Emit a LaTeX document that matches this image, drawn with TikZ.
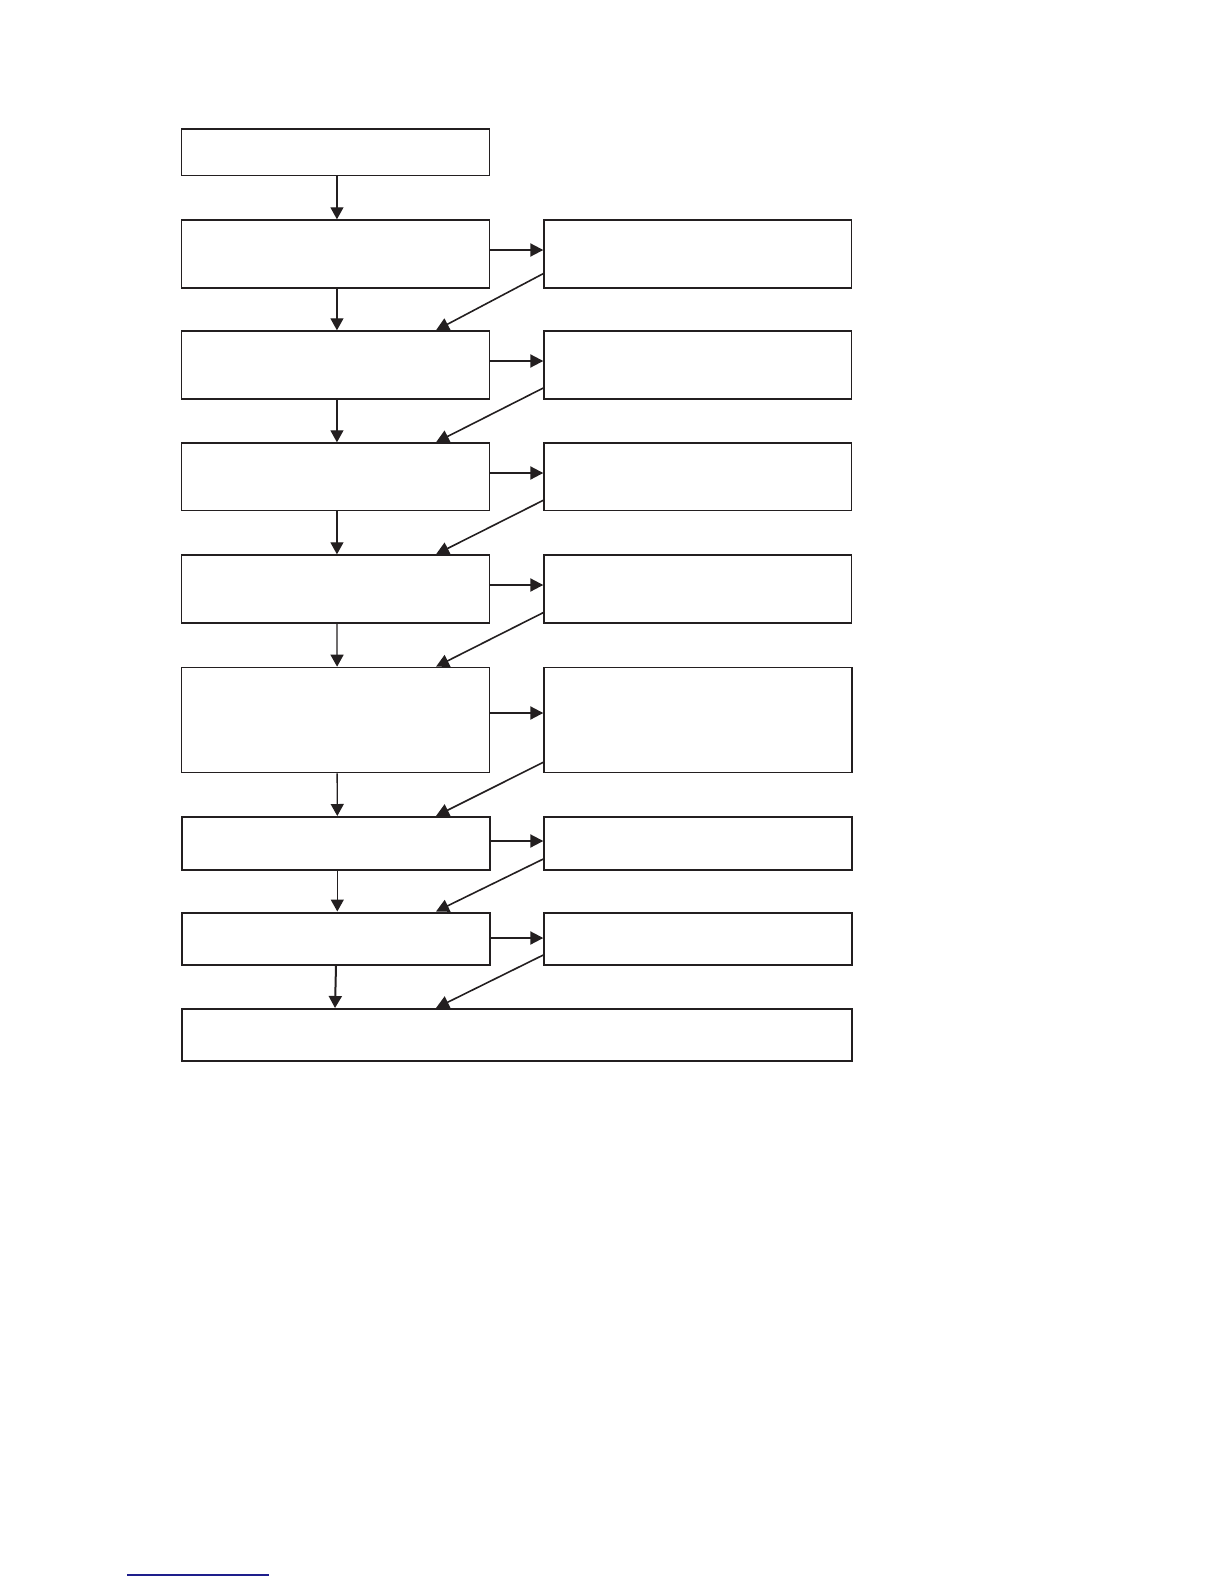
\documentclass[tikz,border=0pt]{standalone}
\usetikzlibrary{arrows.meta}
\definecolor{ink}{RGB}{35,31,32}
\definecolor{rule}{RGB}{30,30,140}
\begin{document}
\begin{tikzpicture}[x=1pt,y=-1pt,
  box/.style={draw=ink, line width=1.3pt, rectangle, inner sep=0pt, anchor=north west, minimum width=308pt},
  rbox/.style={box, minimum width=307.7pt},
  thick box/.style={line width=2pt},
  varr/.style={draw=ink, line width=1.3pt, -{Triangle[length=12pt,width=13pt]}},
  harr/.style={draw=ink, line width=2pt, -{Triangle[length=13pt,width=13pt]}},
  darr/.style={draw=ink, line width=1.6pt, -{Triangle[length=13pt,width=13pt]}}]
\useasboundingbox (0,0) rectangle (1224,1584);
% left column
\node[box, minimum height=46.7pt] (L0) at (180.5,128.3) {};
\node[box, minimum height=68pt] (L1) at (180.5,219.3) {};
\node[box, minimum height=68pt] (L2) at (180.5,330.3) {};
\node[box, minimum height=67.7pt] (L3) at (180.5,442.3) {};
\node[box, minimum height=68pt] (L4) at (180.5,554.3) {};
\node[box, line width=1.6pt, minimum height=105pt] (L5) at (180.5,666.7) {};
\node[box, thick box, minimum height=52.5pt] (L6) at (180.5,816) {};
\node[box, thick box, minimum height=52.5pt] (L7) at (180.5,911.5) {};
% right column
\node[rbox, minimum height=68pt] (R1) at (543.3,219.3) {};
\node[rbox, minimum height=68pt] (R2) at (543.3,330.3) {};
\node[rbox, minimum height=67.7pt] (R3) at (543.3,442.3) {};
\node[rbox, minimum height=68pt] (R4) at (543.3,554.3) {};
\node[rbox, line width=1.6pt, minimum height=105pt] (R5) at (543.3,666.7) {};
\node[rbox, thick box, minimum height=52.5pt] (R6) at (543.3,816) {};
\node[rbox, thick box, minimum height=52.5pt] (R7) at (543.3,911.5) {};
% final
\node[box, thick box, minimum width=670.5pt, minimum height=52pt] (F) at (180.5,1008) {};
% vertical arrows
\draw[varr] ([xshift=1.8pt]L0.south) -- ([xshift=1.8pt]L1.north);
\draw[varr] ([xshift=1.8pt]L1.south) -- ([xshift=1.8pt]L2.north);
\draw[varr] ([xshift=1.8pt]L2.south) -- ([xshift=1.8pt]L3.north);
\draw[varr] ([xshift=1.8pt]L3.south) -- ([xshift=1.8pt]L4.north);
\draw[varr] ([xshift=1.8pt]L4.south) -- ([xshift=1.8pt]L5.north);
\draw[varr] ([xshift=1.8pt]L5.south) -- ([xshift=1.8pt]L6.north);
\draw[varr] ([xshift=1.8pt]L6.south) -- ([xshift=1.8pt]L7.north);
\draw[varr, line width=2pt] ([xshift=0.5pt]L7.south) -- ([xshift=154.5pt]F.north west);
% horizontal arrows
\draw[harr] ([yshift=-30.7pt]L1.north east) -- ([yshift=-30.7pt]R1.north west);
\draw[harr] ([yshift=-30.7pt]L2.north east) -- ([yshift=-30.7pt]R2.north west);
\draw[harr] ([yshift=-30.7pt]L3.north east) -- ([yshift=-30.7pt]R3.north west);
\draw[harr] ([yshift=-30.7pt]L4.north east) -- ([yshift=-30.7pt]R4.north west);
\draw[harr] ([yshift=-46.3pt]L5.north east) -- ([yshift=-46.3pt]R5.north west);
\draw[harr] ([yshift=-25pt]L6.north east) -- ([yshift=-25pt]R6.north west);
\draw[harr] ([yshift=-26.5pt]L7.north east) -- ([yshift=-26.5pt]R7.north west);
% diagonal return arrows
\draw[darr] ([yshift=15pt]R1.south west) -- ([xshift=255.5pt]L2.north west);
\draw[darr] ([yshift=11.6pt]R2.south west) -- ([xshift=255.5pt]L3.north west);
\draw[darr] ([yshift=11pt]R3.south west) -- ([xshift=255.5pt]L4.north west);
\draw[darr] ([yshift=11pt]R4.south west) -- ([xshift=255.5pt]L5.north west);
\draw[darr] ([yshift=11pt]R5.south west) -- ([xshift=255.5pt]L6.north west);
\draw[darr] ([yshift=11.5pt]R6.south west) -- ([xshift=255.5pt]L7.north west);
\draw[darr] ([yshift=11pt]R7.south west) -- ([xshift=255.5pt]F.north west);
% blue rule at the foot
\coordinate (ruleA) at (127,1575);
\coordinate (ruleB) at (269,1575);
\draw[rule, line width=1.3pt] (ruleA) -- (ruleB);
\end{tikzpicture}
\end{document}
